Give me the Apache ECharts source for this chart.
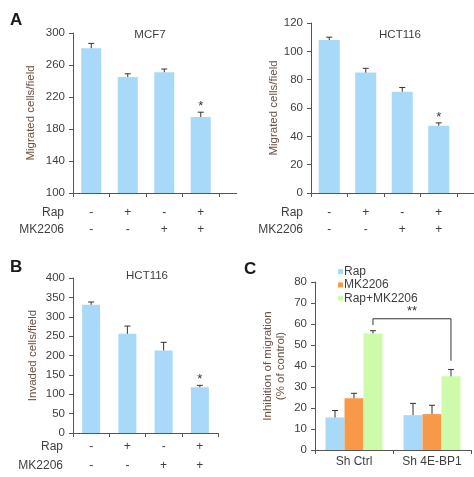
<!DOCTYPE html>
<html>
<head>
<meta charset="utf-8">
<script src="https://cdn.jsdelivr.net/npm/echarts@6/dist/echarts.min.js"></script>
<style>html,body{margin:0;padding:0;background:#fff;}#c{width:474px;height:477px;}</style>
</head>
<body>
<div id="c"></div>
<script>
// ---- data ----
const rapRow = ['-', '+', '-', '+'];
const mkRow  = ['-', '-', '+', '+'];
const catIdx = ['0', '1', '2', '3'];

const a1Values = [281, 245, 251, 195];
const a1Err    = [287, 249, 255, 201];
const a1Sig    = ['', '', '', '*'];

const a2Values = [108, 85, 71.5, 47.5];
const a2Err    = [110, 88, 74.5, 49.5];
const a2Sig    = ['', '', '', '*'];

const bValues = [331, 256, 213, 118];
const bErr    = [338, 276, 234, 123];
const bSig    = ['', '', '', '*'];

const cCategories = ['Sh Ctrl', 'Sh 4E-BP1'];
const cRap       = [15.5, 16.6];
const cRapErr    = [18.8, 22.2];
const cMK        = [24.7, 17.1];
const cMKErr     = [27.0, 21.3];
const cCombo     = [55.5, 35.1];
const cComboErr  = [56.8, 38.3];
const cBracket   = [0, 1, 62.5, 59.5, 42.5]; // fromCat, toCat, top, leftEnd, rightEnd
const cBracketLabel = '**';

// ---- style ----
const FONT = "'Liberation Sans', Arial, sans-serif";
const LABEL = '#3f3f3f';
const NAME = '#6a5242';
const AXIS = '#555555';
const BLUE = '#a9d9f8';
const ORANGE = '#f8994a';
const GREEN = '#cdfba9';

function errData(vals, errs) {
  return vals.map((v, i) => [i, v, errs[i]]);
}

function errRender(nSeries, gap, sIdx, sig) {
  return function (params, api) {
    const ci = api.value(0);
    const base = api.coord([ci, api.value(1)]);
    const top = api.coord([ci, api.value(2)]);
    let dx = 0;
    if (nSeries > 1) {
      const band = api.size([1, 0])[0];
      const bw = band * (1 - gap) / nSeries;
      dx = (sIdx - (nSeries - 1) / 2) * bw;
    }
    const x = base[0] + dx;
    const children = [
      {type: 'line', shape: {x1: x, y1: base[1], x2: x, y2: top[1]}, style: {stroke: '#333', lineWidth: 1}},
      {type: 'line', shape: {x1: x - 3, y1: top[1], x2: x + 3, y2: top[1]}, style: {stroke: '#333', lineWidth: 1}}
    ];
    const s = sig ? sig[params.dataIndex] : '';
    if (s) {
      children.push({type: 'text', style: {text: s, x: x, y: top[1] + 1, align: 'center', verticalAlign: 'bottom', fontSize: 13, fontFamily: FONT, fill: '#333'}});
    }
    return {type: 'group', children: children};
  };
}

function yAxis(gi, min, max, interval, name, nameGap) {
  return {
    type: 'value', gridIndex: gi, min: min, max: max, interval: interval,
    name: name, nameLocation: 'middle', nameGap: nameGap, nameRotate: 90,
    nameTextStyle: {color: NAME, fontSize: 11.5, fontFamily: FONT, lineHeight: 13},
    axisLine: {show: true, lineStyle: {color: AXIS, width: 1}},
    axisTick: {show: true, length: 4, lineStyle: {color: AXIS}},
    axisLabel: {color: LABEL, fontSize: 11.5, fontFamily: FONT, margin: 8},
    splitLine: {show: false}
  };
}

function xAxisRows(gi, lh, margin) {
  return {
    type: 'category', gridIndex: gi, data: catIdx,
    axisLine: {show: true, lineStyle: {color: AXIS, width: 1}},
    axisTick: {show: true, length: 4, alignWithLabel: false, lineStyle: {color: AXIS}},
    axisLabel: {
      color: LABEL, fontSize: 12, fontFamily: FONT, margin: margin, lineHeight: lh,
      formatter: (v, i) => rapRow[i] + '\n' + mkRow[i]
    }
  };
}

function txt(text, x, y, align, size, extra) {
  return {type: 'text', x: x, y: y, style: Object.assign({text: text, align: align, verticalAlign: 'middle', fontSize: size, fill: LABEL, fontFamily: FONT}, extra || {})};
}

const chart = echarts.init(document.getElementById('c'));

const option = {
  animation: false,
  textStyle: {fontFamily: FONT},
  grid: [
    {left: 73, top: 33, width: 146, height: 160},
    {left: 311, top: 23, width: 146, height: 170},
    {left: 73, top: 278, width: 145, height: 155},
    {left: 315, top: 282, width: 156, height: 168}
  ],
  xAxis: [
    xAxisRows(0, 17, 11.5),
    xAxisRows(1, 17, 11.5),
    xAxisRows(2, 19, 4.5),
    {
      type: 'category', gridIndex: 3, data: cCategories,
      axisLine: {show: true, lineStyle: {color: AXIS, width: 1}},
      axisTick: {show: true, length: 4, lineStyle: {color: AXIS}},
      axisLabel: {color: LABEL, fontSize: 12, fontFamily: FONT, margin: 6}
    }
  ],
  yAxis: [
    yAxis(0, 100, 300, 40, 'Migrated cells/field', 36),
    yAxis(1, 0, 120, 20, 'Migrated cells/field', 31),
    yAxis(2, 0, 400, 50, 'Invaded cells/field', 34),
    yAxis(3, 0, 80, 10, 'Inhibition of migration\n(% of control)', 28)
  ],
  legend: {
    data: ['Rap', 'MK2206', 'Rap+MK2206'],
    orient: 'vertical', left: 333, top: 260,
    itemWidth: 5, itemHeight: 5, itemGap: 0, icon: 'rect',
    textStyle: {color: LABEL, fontSize: 12, fontFamily: FONT, lineHeight: 13.3, padding: [0, 0, 0, -4]}
  },
  graphic: [
    {type: 'text', left: 10, top: 12, style: {text: 'A', fontSize: 17, fontWeight: 'bold', fill: '#1a1a1a', fontFamily: FONT}},
    {type: 'text', left: 10, top: 259, style: {text: 'B', fontSize: 17, fontWeight: 'bold', fill: '#1a1a1a', fontFamily: FONT}},
    {type: 'text', left: 244, top: 261, style: {text: 'C', fontSize: 17, fontWeight: 'bold', fill: '#1a1a1a', fontFamily: FONT}},
    txt('MCF7', 150, 35, 'center', 11.5),
    txt('HCT116', 400, 35, 'center', 11.5),
    txt('HCT116', 147, 276, 'center', 11.5),
    txt('Rap', 64, 213, 'right', 12),
    txt('MK2206', 64, 230, 'right', 12),
    txt('Rap', 303, 213, 'right', 12),
    txt('MK2206', 303, 230, 'right', 12),
    txt('Rap', 63, 447, 'right', 12),
    txt('MK2206', 63, 466, 'right', 12),
    {type: 'line', shape: {x1: 219, y1: 193.5, x2: 237, y2: 193.5}, style: {stroke: AXIS, lineWidth: 1}},
    {type: 'line', shape: {x1: 457, y1: 193.5, x2: 474, y2: 193.5}, style: {stroke: AXIS, lineWidth: 1}}
  ],
  series: [
    {type: 'bar', xAxisIndex: 0, yAxisIndex: 0, data: a1Values, barWidth: 20, itemStyle: {color: BLUE}},
    {type: 'custom', xAxisIndex: 0, yAxisIndex: 0, data: errData(a1Values, a1Err), renderItem: errRender(1, 0, 0, a1Sig), z: 5},
    {type: 'bar', xAxisIndex: 1, yAxisIndex: 1, data: a2Values, barWidth: 21, itemStyle: {color: BLUE}},
    {type: 'custom', xAxisIndex: 1, yAxisIndex: 1, data: errData(a2Values, a2Err), renderItem: errRender(1, 0, 0, a2Sig), z: 5},
    {type: 'bar', xAxisIndex: 2, yAxisIndex: 2, data: bValues, barWidth: 18, itemStyle: {color: BLUE}},
    {type: 'custom', xAxisIndex: 2, yAxisIndex: 2, data: errData(bValues, bErr), renderItem: errRender(1, 0, 0, bSig), z: 5},
    {name: 'Rap', type: 'bar', xAxisIndex: 3, yAxisIndex: 3, data: cRap, barGap: '0%', barCategoryGap: '27%', itemStyle: {color: BLUE}},
    {name: 'MK2206', type: 'bar', xAxisIndex: 3, yAxisIndex: 3, data: cMK, barGap: '0%', barCategoryGap: '27%', itemStyle: {color: ORANGE}},
    {name: 'Rap+MK2206', type: 'bar', xAxisIndex: 3, yAxisIndex: 3, data: cCombo, barGap: '0%', barCategoryGap: '27%', itemStyle: {color: GREEN}},
    {type: 'custom', xAxisIndex: 3, yAxisIndex: 3, data: errData(cRap, cRapErr), renderItem: errRender(3, 0.27, 0), z: 5},
    {type: 'custom', xAxisIndex: 3, yAxisIndex: 3, data: errData(cMK, cMKErr), renderItem: errRender(3, 0.27, 1), z: 5},
    {type: 'custom', xAxisIndex: 3, yAxisIndex: 3, data: errData(cCombo, cComboErr), renderItem: errRender(3, 0.27, 2), z: 5},
    {
      type: 'custom', xAxisIndex: 3, yAxisIndex: 3, data: [cBracket], z: 6,
      renderItem: function (params, api) {
        const band = api.size([1, 0])[0];
        const dx = band * 0.73 / 3;
        const l = api.coord([api.value(0), api.value(2)]);
        const r = api.coord([api.value(1), api.value(2)]);
        const lb = api.coord([api.value(0), api.value(3)]);
        const rb = api.coord([api.value(1), api.value(4)]);
        const xl = l[0] + dx, xr = r[0] + dx;
        return {type: 'group', children: [
          {type: 'polyline', shape: {points: [[xl, lb[1]], [xl, l[1]], [xr, l[1]], [xr, rb[1]]]}, style: {stroke: '#333', lineWidth: 1, fill: null}},
          {type: 'text', style: {text: cBracketLabel, x: (xl + xr) / 2, y: l[1] - 1, align: 'center', verticalAlign: 'bottom', fontSize: 13, fontFamily: FONT, fill: '#333'}}
        ]};
      }
    }
  ]
};
chart.setOption(option);
</script>
</body>
</html>
